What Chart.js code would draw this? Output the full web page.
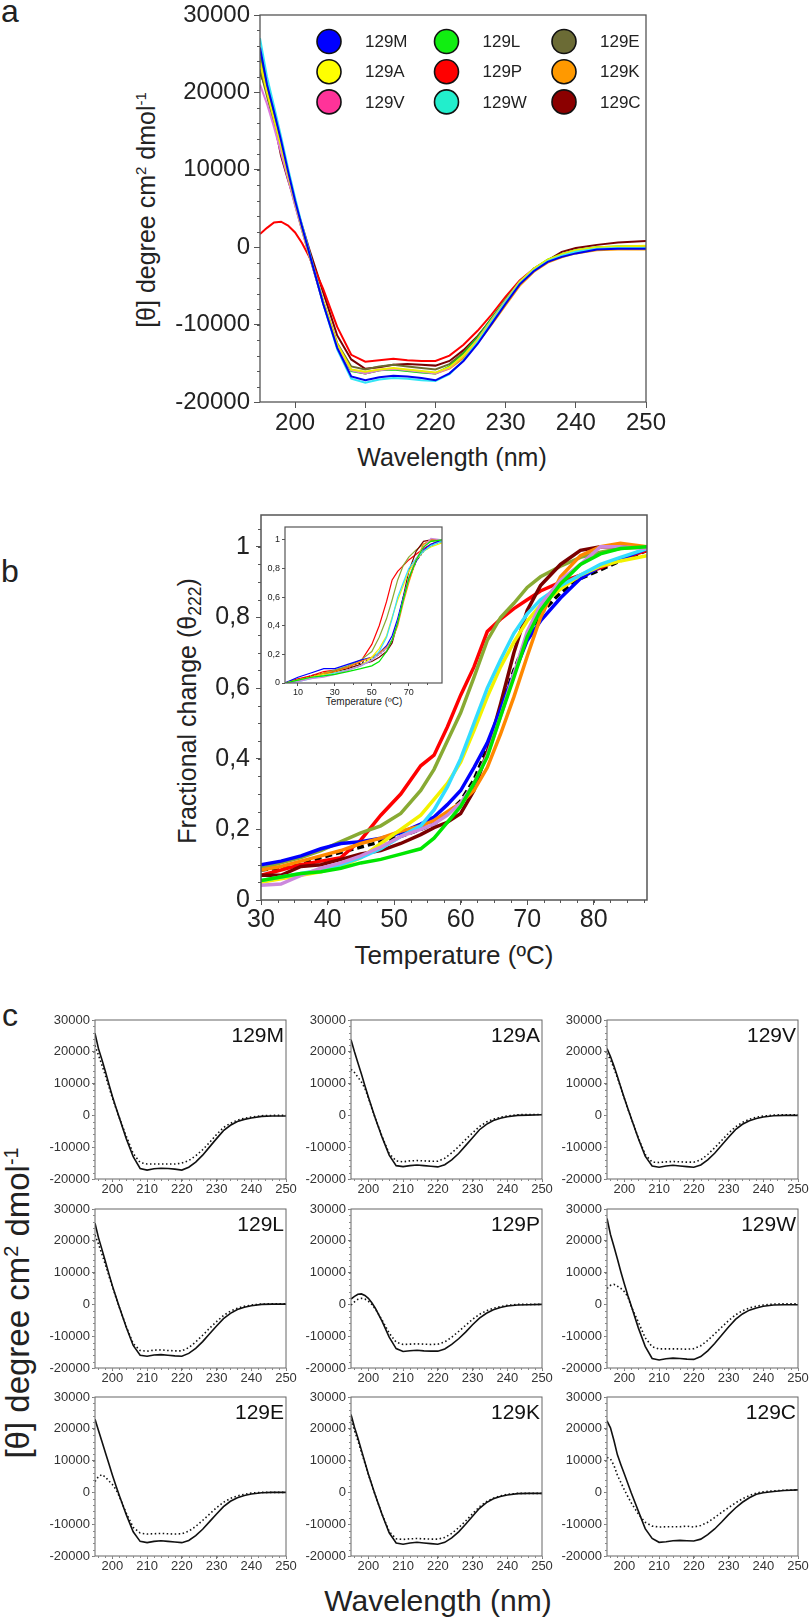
<!DOCTYPE html>
<html>
<head>
<meta charset="utf-8">
<script src="https://cdn.jsdelivr.net/npm/chart.js@4.4.1/dist/chart.umd.min.js"></script>
<style>
  body { margin: 0; background: #fff; }
  #page { position: relative; width: 812px; height: 1621px; overflow: hidden;
          font-family: "Liberation Sans", Arial, sans-serif; color: #222; }
  .t { position: absolute; white-space: nowrap; line-height: 1; transform: translate(-50%, -50%); }
  .r { transform: translate(-50%, -50%) rotate(-90deg); }
  .lbl { position: absolute; line-height: 1; font-size: 32px; }
  sup { font-size: 0.6em; vertical-align: 0.55em; line-height: 0; }
  sub { font-size: 0.7em; vertical-align: -0.3em; line-height: 0; }
</style>
</head>
<body>
<div id="page">
  <div class="lbl" style="left:1px;top:-5px">a</div>
  <div class="lbl" style="left:1px;top:555px">b</div>
  <div class="lbl" style="left:2px;top:999px">c</div>

  <div class="t r" style="left:146px;top:210px;font-size:25px">[θ] degree cm<sup>2</sup> dmol<sup>-1</sup></div>
  <div class="t" style="left:452px;top:457px;font-size:25px">Wavelength (nm)</div>

  <div class="t r" style="left:187px;top:711px;font-size:25px">Fractional change (θ<sub>222</sub>)</div>
  <div class="t" style="left:454px;top:955px;font-size:26px">Temperature (ºC)</div>
  <div class="t" style="left:364px;top:702px;font-size:10px">Temperature (ºC)</div>

  <div class="t r" style="left:17px;top:1303px;font-size:33px">[θ] degree cm<sup>2</sup> dmol<sup>-1</sup></div>
  <div class="t" style="left:438px;top:1601px;font-size:30px">Wavelength (nm)</div>
</div>

<script>
// ---- panel a / c : CD spectra ----
const wavelength = [195, 196, 197, 198, 199, 200, 201, 202, 204, 206, 208, 210, 212, 214, 216,
                    218, 220, 222, 224, 226, 228, 230, 232, 234, 236, 238, 240, 243, 246, 250];

const cd129M = [25800, 21000, 17500, 13800, 9800, 6000, 2600, -700, -7300, -13000, -16700, -17200, -16800, -16600, -16700,
                -16900, -17200, -16300, -14700, -12500, -9900, -7300, -4800, -3100, -1900, -1250, -800, -300, -200, -200];
const cd129A = [23800, 20000, 16500, 13000, 9300, 5800, 2400, -900, -7000, -12500, -15800, -16100, -15800, -15600, -15800,
                -16000, -16200, -15500, -14000, -12000, -9500, -7000, -4500, -2800, -1600, -900, -400, 0, 100, 200];
const cd129V = [21000, 18500, 15500, 12200, 8800, 5400, 2200, -1000, -7200, -12800, -15900, -16300, -15900, -15700, -15900,
                -16100, -16300, -15600, -14000, -11900, -9400, -6900, -4500, -2800, -1700, -1000, -500, -100, 0, 0];
const cd129L = [25500, 21000, 17300, 13500, 9600, 5900, 2500, -800, -7200, -12900, -16000, -16300, -15900, -15800, -16000,
                -16200, -16300, -15400, -13800, -11700, -9200, -6800, -4500, -2800, -1600, -900, -400, 0, 100, 100];
const cd129P = [1700, 2500, 3200, 3300, 2800, 1900, 500, -1200, -5400, -10300, -13900, -14800, -14600, -14400, -14600,
                -14700, -14700, -14000, -12600, -10800, -8700, -6400, -4300, -2800, -1700, -1000, -500, -200, -100, 0];
const cd129W = [27000, 22000, 18200, 14300, 10200, 6400, 2800, -500, -7300, -13200, -17000, -17500, -17100, -16900, -17000,
                -17200, -17300, -16400, -14600, -12300, -9700, -7100, -4700, -3000, -1800, -1100, -600, -200, -100, -100];
const cd129E = [23000, 19500, 16000, 12500, 9000, 5500, 2200, -1000, -7000, -12400, -15400, -15800, -15400, -15200, -15400,
                -15600, -15800, -15100, -13600, -11600, -9200, -6800, -4500, -2800, -1700, -1000, -500, -100, 0, 0];
const cd129K = [24500, 20500, 17000, 13300, 9500, 5800, 2400, -900, -7100, -12700, -15900, -16300, -15900, -15700, -15900,
                -16100, -16300, -15700, -14300, -12400, -10000, -7500, -5000, -3200, -2000, -1300, -800, -400, -300, -300];
const cd129C = [22500, 20300, 16300, 11800, 8700, 5800, 2800, -200, -5800, -11400, -14500, -15700, -15500, -15200, -15100,
                -15200, -15300, -14700, -13300, -11500, -9300, -7000, -4900, -3100, -1700, -600, -100, 300, 600, 800];

// dotted curves of panel c
const ref129M = [22000, 19000, 15800, 12500, 9000, 5500, 2300, -700, -6500, -12000, -14800, -15300, -15300, -15300, -15300,
                 -15300, -15000, -14200, -12700, -10800, -8500, -6000, -3800, -2500, -1500, -900, -500, -100, 0, 0];
const ref129A = [14500, 13500, 12000, 10500, 8500, 5500, 2200, -900, -6800, -12000, -14300, -14600, -14300, -14200, -14300,
                 -14400, -14400, -13500, -11800, -9800, -7600, -5500, -3500, -2100, -1200, -600, -200, 200, 300, 300];
const ref129V = [19500, 17500, 14800, 11800, 8600, 5300, 2100, -1000, -7000, -12300, -14700, -14800, -14600, -14500, -14600,
                 -14700, -14700, -14000, -12300, -10200, -7900, -5600, -3600, -2200, -1200, -600, -200, 100, 200, 200];
const ref129L = [21800, 19000, 15800, 12500, 9000, 5600, 2300, -900, -7000, -12300, -14500, -14700, -14400, -14300, -14500,
                 -14600, -14600, -13600, -11800, -9700, -7500, -5400, -3500, -2100, -1200, -600, -200, 100, 200, 200];
const ref129P = [-200, 800, 1600, 1900, 1700, 1000, 0, -1400, -5000, -9000, -11900, -12600, -12500, -12400, -12500,
                 -12600, -12500, -11800, -10300, -8500, -6600, -4700, -3100, -2000, -1200, -700, -300, 0, 0, 0];
const ref129W = [5000, 6000, 6300, 5700, 5000, 4000, 2400, -700, -5500, -10500, -13300, -14000, -14000, -14000, -14000,
                 -14100, -13900, -13000, -11300, -9300, -7200, -5100, -3300, -2000, -1100, -600, -200, 100, 200, 200];
const ref129E = [3400, 5000, 5600, 4800, 3600, 2500, 1000, -1300, -6500, -11000, -12800, -13100, -13000, -12900, -13000,
                 -13100, -13000, -12200, -10700, -8800, -6800, -4800, -3100, -1900, -1100, -600, -200, 0, 0, 0];
const ref129K = [22900, 19500, 16200, 12700, 9200, 5700, 2300, -900, -7000, -12300, -14600, -14800, -14600, -14500, -14600,
                 -14700, -14700, -14200, -12900, -11100, -9000, -6700, -4500, -2900, -1800, -1100, -600, -300, -300, -300];
const ref129C = [11000, 10500, 8500, 5400, 3100, 800, -1300, -3300, -6800, -9400, -10600, -10900, -10800, -10800, -10800,
                 -10600, -10900, -10400, -9400, -7900, -6300, -4800, -3300, -2000, -1000, -200, 200, 500, 700, 800];

// ---- panel b : thermal melts ----
const temperature = [30, 33, 36, 39, 42, 45, 48, 51, 54, 56, 58, 60, 62, 64, 66, 68, 70, 72, 75, 78, 81, 84, 88];
const melt129M = [.10, .11, .125, .145, .16, .165, .175, .19, .215, .235, .27, .31, .375, .445, .54, .64, .735, .79, .855, .91, .945, .965, .995];
const melt129A = [.05, .06, .07, .08, .095, .12, .16, .20, .24, .285, .33, .39, .48, .575, .66, .73, .79, .835, .88, .92, .945, .96, .975];
const melt129V = [.042, .045, .07, .09, .105, .125, .15, .18, .20, .215, .24, .275, .33, .41, .52, .64, .76, .835, .905, .95, 1.0, 1.0, .995];
const melt129L = [.055, .065, .075, .08, .09, .105, .115, .13, .145, .175, .22, .265, .33, .405, .52, .63, .745, .82, .895, .95, .98, .995, 1.0];
const melt129P = [.07, .085, .10, .11, .12, .17, .24, .30, .38, .41, .49, .58, .66, .76, .795, .825, .85, .875, .90, .92, .94, .965, .99];
const melt129W = [.055, .065, .075, .085, .10, .12, .145, .18, .21, .255, .32, .40, .50, .60, .68, .755, .81, .85, .89, .92, .95, .97, .995];
const melt129E = [.09, .105, .12, .14, .165, .19, .21, .245, .31, .37, .45, .53, .63, .735, .80, .84, .885, .915, .945, .97, .985, .995, 1.0];
const melt129K = [.085, .095, .11, .125, .14, .16, .175, .195, .21, .225, .25, .275, .31, .375, .47, .575, .69, .80, .915, .975, 1.0, 1.01, 1.0];
const melt129C = [.07, .07, .095, .10, .115, .13, .14, .16, .185, .205, .22, .245, .31, .42, .555, .70, .82, .89, .95, .99, 1.0, 1.0, 1.0];
const meltMean = [.085, .09, .10, .12, .135, .15, .165, .18, .20, .215, .245, .28, .34, .43, .54, .65, .745, .81, .87, .91, .935, .96, .99];

// inset of panel b
const tempInset = [3, 10, 17, 24, 30, 37, 44, 50, 54, 58, 61, 64, 67, 70, 74, 78, 82, 88];
const inset129M = [0, .04, .07, .10, .10, .13, .16, .18, .21, .26, .33, .45, .60, .73, .85, .93, .97, 1.0];
const inset129A = [0, .02, .04, .06, .07, .09, .12, .18, .24, .33, .46, .58, .68, .78, .86, .92, .95, .98];
const inset129V = [0, .01, .03, .04, .06, .09, .12, .16, .20, .24, .30, .42, .58, .74, .87, .95, 1.01, 1.0];
const inset129L = [0, .02, .04, .05, .06, .08, .10, .12, .15, .22, .30, .42, .58, .73, .86, .95, .99, 1.0];
const inset129P = [0, .03, .05, .08, .09, .11, .15, .27, .40, .57, .72, .78, .82, .86, .90, .94, .97, 1.0];
const inset129W = [0, .01, .03, .05, .07, .09, .12, .16, .22, .32, .45, .60, .70, .80, .87, .92, .96, .99];
const inset129E = [0, .02, .04, .07, .09, .12, .16, .22, .32, .45, .58, .72, .82, .88, .93, .97, .99, 1.0];
const inset129K = [0, .02, .04, .07, .08, .11, .15, .18, .21, .25, .30, .40, .56, .70, .86, .97, 1.0, 1.0];
const inset129C = [0, .02, .04, .06, .08, .10, .13, .15, .18, .22, .28, .42, .60, .78, .92, .99, 1.0, 1.0];
const insetMean = [0, .02, .05, .07, .08, .11, .14, .17, .20, .24, .30, .43, .58, .72, .85, .92, .96, .99];

// tick labels
const tickWave = [200, 210, 220, 230, 240, 250];
const tickCD = [-20000, -10000, 0, 10000, 20000, 30000];
const tickTemp = [30, 40, 50, 60, 70, 80];
const tickFrac = [0, 0.2, 0.4, 0.6, 0.8, 1];
const tickTempInset = [10, 30, 50, 70];

const mutants = ['129M', '129A', '129V', '129L', '129P', '129W', '129E', '129K', '129C'];
const nativeCD = [cd129M, cd129A, cd129V, cd129L, cd129P, cd129W, cd129E, cd129K, cd129C];
const refoldCD = [ref129M, ref129A, ref129V, ref129L, ref129P, ref129W, ref129E, ref129K, ref129C];
const melts = [melt129M, melt129A, melt129V, melt129L, melt129P, melt129W, melt129E, melt129K, melt129C];
const insets = [inset129M, inset129A, inset129V, inset129L, inset129P, inset129W, inset129E, inset129K, inset129C];

// colours (same order as mutants)
const legendColors = ['#0000FF', '#FFFF00', '#FF3399', '#11EE11', '#FF0000', '#22EECC', '#6B6B35', '#FF9900', '#8B0000'];
const spectraColors = ['#0000EE', '#EEEE00', '#DD77DD', '#00DD00', '#FF0000', '#33E5F5', '#6B6B30', '#FF9900', '#7A0000'];
const meltColors = ['#0000FF', '#F2F200', '#CC88DD', '#00E600', '#FF0000', '#33DDFF', '#88AA33', '#FF8800', '#7A0000'];

const FONT = '"Liberation Sans", Arial, sans-serif';

function addCanvas(box, yw, xh, padT, padR) {
  const c = document.createElement('canvas');
  const w = box.w + yw + padR, h = box.h + padT + xh;
  c.width = w; c.height = h;
  c.style.position = 'absolute';
  c.style.left = (box.l - yw) + 'px';
  c.style.top = (box.t - padT) + 'px';
  c.style.width = w + 'px';
  c.style.height = h + 'px';
  document.getElementById('page').appendChild(c);
  return c;
}

function points(xs, ys) {
  return xs.map((x, i) => ({ x: x, y: ys[i] }));
}

function axis(o) {
  const horiz = o.pos === 'bottom';
  return {
    type: 'linear', position: o.pos, min: o.min, max: o.max,
    afterBuildTicks: s => { s.ticks = o.ticks.map(v => ({ value: v })); },
    afterFit: s => { if (horiz) s.height = o.size; else s.width = o.size; },
    border: { display: false },
    grid: { drawOnChartArea: false, drawTicks: true, tickLength: o.tick, color: o.tickColor || '#555', lineWidth: 1 },
    ticks: {
      padding: o.pad, color: o.color || '#222', autoSkip: false, maxRotation: 0,
      font: { family: FONT, size: o.font },
      callback: o.fmt || (v => String(v))
    }
  };
}

const frame = {
  id: 'frame',
  afterDraw(chart, args, opts) {
    const a = chart.chartArea, ctx = chart.ctx;
    ctx.save();
    ctx.strokeStyle = opts.color || '#555';
    ctx.lineWidth = opts.width || 1;
    ctx.strokeRect(a.left, a.top, a.right - a.left, a.bottom - a.top);
    ctx.restore();
  }
};

const minorTicks = {
  id: 'minorTicks',
  afterDraw(chart, args, opts) {
    const ctx = chart.ctx;
    ctx.save();
    ctx.strokeStyle = opts.color || '#555';
    ctx.lineWidth = 1;
    (opts.axes || []).forEach(m => {
      const s = chart.scales[m.id];
      const n = Math.round((s.max - m.from) / m.step);
      for (let i = 0; i <= n; i++) {
        const v = m.from + i * m.step;
        if (v < s.min - 1e-9 || v > s.max + 1e-9) continue;
        const p = Math.round(s.getPixelForValue(v)) + 0.5;
        ctx.beginPath();
        if (s.isHorizontal()) { ctx.moveTo(p, s.top); ctx.lineTo(p, s.top + m.len); }
        else { ctx.moveTo(s.right, p); ctx.lineTo(s.right - m.len, p); }
        ctx.stroke();
      }
    });
    ctx.restore();
  }
};

const circleLegend = {
  id: 'circleLegend',
  afterDraw(chart) {
    const a = chart.chartArea, ctx = chart.ctx;
    ctx.save();
    ctx.font = '17px ' + FONT;
    ctx.textBaseline = 'middle';
    ctx.textAlign = 'left';
    mutants.forEach((name, i) => {
      const col = Math.floor(i / 3), row = i % 3;
      const cx = a.left + 69 + col * 117.5, cy = a.top + 26.5 + row * 30.2;
      ctx.beginPath();
      ctx.arc(cx, cy, 12, 0, Math.PI * 2);
      ctx.fillStyle = legendColors[i];
      ctx.fill();
      ctx.lineWidth = 1.6;
      ctx.strokeStyle = '#111';
      ctx.stroke();
      ctx.fillStyle = '#222';
      ctx.fillText(name, cx + 36, cy + 1);
    });
    ctx.restore();
  }
};

const cornerLabel = {
  id: 'cornerLabel',
  afterDraw(chart, args, opts) {
    const a = chart.chartArea, ctx = chart.ctx;
    ctx.save();
    ctx.font = '21px ' + FONT;
    ctx.fillStyle = '#111';
    ctx.textAlign = 'right';
    ctx.textBaseline = 'alphabetic';
    ctx.fillText(opts.text, a.right - 2, a.top + 22);
    ctx.restore();
  }
};

function baseOptions(padT, padR, scales, plugins) {
  return {
    responsive: false, animation: false,
    layout: { padding: { top: padT, right: padR, left: 0, bottom: 0 } },
    scales: scales,
    elements: { point: { radius: 0 }, line: { tension: 0 } },
    plugins: Object.assign({ legend: { display: false }, tooltip: { enabled: false } }, plugins)
  };
}

const fmtFrac = v => String(v).replace('.', ',');

// ---------- panel a ----------
(function () {
  const box = { l: 260, t: 15, w: 386, h: 387 };
  const yw = 100, xh = 50, padT = 20, padR = 26;
  const order = [0, 5, 1, 2, 3, 6, 7, 4, 8];
  const datasets = order.map(i => ({
    data: points(wavelength, nativeCD[i]),
    borderColor: spectraColors[i], borderWidth: 2, fill: false, pointRadius: 0
  }));
  new Chart(addCanvas(box, yw, xh, padT, padR), {
    type: 'line',
    data: { datasets },
    options: baseOptions(padT, padR, {
      x: axis({ pos: 'bottom', min: 195, max: 250, ticks: tickWave, size: xh, tick: 6, pad: 1, font: 24 }),
      y: axis({ pos: 'left', min: -20000, max: 30000, ticks: tickCD, size: yw, tick: 6, pad: 4, font: 24 })
    }, {
      frame: { color: '#555', width: 1.3 },
      minorTicks: { axes: [{ id: 'y', from: -20000, step: 2000, len: 3 }] }
    }),
    plugins: [frame, minorTicks, circleLegend]
  });
})();

// ---------- panel b ----------
(function () {
  const box = { l: 261, t: 515, w: 386, h: 385 };
  const yw = 80, xh = 40, padT = 24, padR = 20;
  const order = [3, 2, 5, 1, 7, 0, 8, 6, 4];
  const datasets = order.map(i => ({
    data: points(temperature, melts[i]),
    borderColor: meltColors[i], borderWidth: 3.5, fill: false, pointRadius: 0
  }));
  datasets.push({ data: points(temperature, meltMean), borderColor: '#000', borderWidth: 3.5,
                  borderDash: [7, 4], fill: false, pointRadius: 0 });
  new Chart(addCanvas(box, yw, xh, padT, padR), {
    type: 'line',
    data: { datasets },
    options: baseOptions(padT, padR, {
      x: axis({ pos: 'bottom', min: 30, max: 88, ticks: tickTemp, size: xh, tick: 5, pad: 0, font: 25 }),
      y: axis({ pos: 'left', min: 0, max: 1.09, ticks: tickFrac, size: yw, tick: 5, pad: 6, font: 25, fmt: fmtFrac })
    }, {
      frame: { color: '#555', width: 1.5 },
      minorTicks: { axes: [{ id: 'x', from: 30, step: 2.5, len: 3 }, { id: 'y', from: 0, step: 0.05, len: 3 }] }
    }),
    plugins: [frame, minorTicks]
  });
})();

// ---------- inset ----------
(function () {
  const box = { l: 285, t: 527, w: 157, h: 156 };
  const yw = 20, xh = 16, padT = 10, padR = 10;
  const order = [3, 2, 5, 1, 7, 0, 8, 6, 4];
  const datasets = order.map(i => ({
    data: points(tempInset, insets[i]),
    borderColor: meltColors[i], borderWidth: 1.2, fill: false, pointRadius: 0
  }));
  datasets.push({ data: points(tempInset, insetMean), borderColor: '#000', borderWidth: 1.2,
                  borderDash: [2, 2], fill: false, pointRadius: 0 });
  new Chart(addCanvas(box, yw, xh, padT, padR), {
    type: 'line',
    data: { datasets },
    options: baseOptions(padT, padR, {
      x: axis({ pos: 'bottom', min: 3, max: 88, ticks: tickTempInset, size: xh, tick: 3, pad: 1, font: 9 }),
      y: axis({ pos: 'left', min: 0, max: 1.09, ticks: tickFrac, size: yw, tick: 3, pad: 2, font: 9, fmt: fmtFrac })
    }, {
      frame: { color: '#555', width: 1.2 },
      minorTicks: { axes: [{ id: 'x', from: 20, step: 20, len: 2 }] }
    }),
    plugins: [frame, minorTicks]
  });
})();

// ---------- panel c ----------
(function () {
  const colL = [95, 351, 607];
  const rowT = [1020, 1209, 1397];
  const yw = 48, xh = 20, padT = 12, padR = 14;
  mutants.forEach((name, i) => {
    const box = { l: colL[i % 3], t: rowT[Math.floor(i / 3)], w: 191, h: 159 };
    new Chart(addCanvas(box, yw, xh, padT, padR), {
      type: 'line',
      data: {
        datasets: [
          { data: points(wavelength, refoldCD[i]), borderColor: '#111', borderWidth: 1.6,
            borderDash: [1.5, 2.5], fill: false, pointRadius: 0 },
          { data: points(wavelength, nativeCD[i]), borderColor: '#111', borderWidth: 1.6,
            fill: false, pointRadius: 0 }
        ]
      },
      options: baseOptions(padT, padR, {
        x: axis({ pos: 'bottom', min: 195, max: 250, ticks: tickWave, size: xh, tick: 3, pad: 0, font: 13, color: '#333', tickColor: '#777' }),
        y: axis({ pos: 'left', min: -20000, max: 30000, ticks: tickCD, size: yw, tick: 3, pad: 2, font: 13, color: '#333', tickColor: '#777' })
      }, {
        frame: { color: '#666', width: 1 },
        minorTicks: { color: '#888', axes: [{ id: 'x', from: 196, step: 2, len: 2 }, { id: 'y', from: -20000, step: 2000, len: 2 }] },
        cornerLabel: { text: name }
      }),
      plugins: [frame, minorTicks, cornerLabel]
    });
  });
})();
</script>
</body>
</html>
